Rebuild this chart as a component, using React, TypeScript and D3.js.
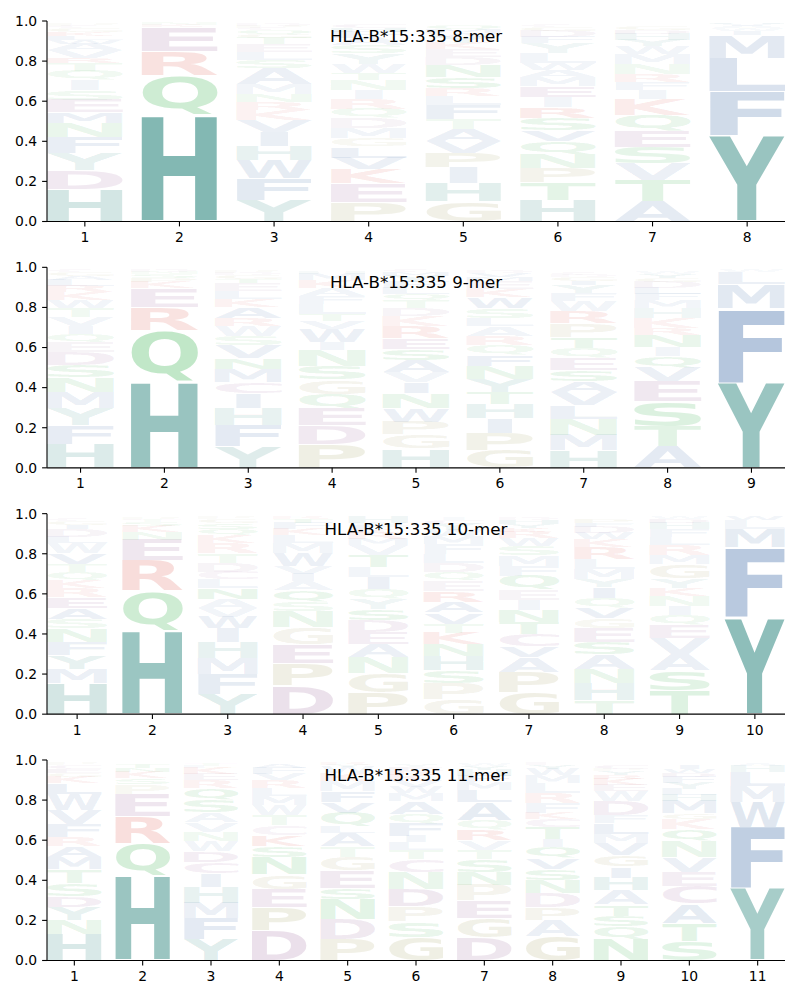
import { useMemo } from "react";
import * as d3 from "d3";

// letter / probability stacks, bottom -> top, one list per position
const MER_8: [string, number][][] = [
  [["H", .16], ["D", .095], ["Y", .083], ["F", .08], ["N", .07], ["M", .055], ["E", .063], ["S", .05], ["I", .05], ["Q", .045], ["T", .04], ["R", .025], ["V", .04], ["A", .03], ["W", .02], ["L", .02], ["K", .02], ["G", .02], ["C", .01], ["P", .01]],
  [["H", .53], ["Q", .2], ["R", .12], ["E", .12], ["K", .01], ["N", .01]],
  [["Y", .108], ["F", .108], ["W", .09], ["H", .07], ["I", .07], ["V", .058], ["K", .05], ["R", .04], ["N", .04], ["M", .05], ["A", .08], ["S", .04], ["L", .04], ["E", .04], ["T", .03], ["G", .02], ["Q", .02], ["C", .01], ["P", .01], ["D", .01]],
  [["P", .096], ["E", .094], ["K", .07], ["V", .058], ["L", .055], ["G", .044], ["M", .05], ["D", .05], ["Q", .045], ["R", .05], ["I", .045], ["N", .05], ["T", .035], ["W", .045], ["Y", .05], ["S", .04], ["A", .04], ["F", .03], ["H", .02], ["C", .02]],
  [["G", .1], ["H", .09], ["I", .078], ["P", .075], ["V", .058], ["A", .058], ["T", .05], ["F", .07], ["L", .045], ["R", .04], ["S", .055], ["N", .06], ["D", .04], ["E", .04], ["K", .03], ["Y", .03], ["W", .02], ["M", .02], ["Q", .02]],
  [["H", .105], ["T", .09], ["P", .072], ["N", .07], ["Q", .063], ["V", .055], ["S", .06], ["R", .055], ["I", .05], ["E", .055], ["M", .045], ["A", .035], ["W", .035], ["L", .05], ["Y", .05], ["F", .03], ["D", .03], ["G", .02], ["C", .01]],
  [["A", .1], ["T", .105], ["V", .085], ["S", .08], ["E", .08], ["Q", .08], ["K", .08], ["I", .045], ["F", .04], ["R", .04], ["N", .05], ["M", .05], ["W", .04], ["Y", .03], ["H", .03], ["D", .02], ["G", .02]],
  [["Y", .43], ["F", .22], ["L", .165], ["M", .115], ["I", .02], ["W", .015], ["A", .01], ["V", .01], ["H", .005]],
];

const MER_9: [string, number][][] = [
  [["H", .117], ["F", .095], ["Y", .083], ["M", .08], ["N", .075], ["S", .06], ["D", .065], ["E", .05], ["Q", .04], ["I", .04], ["V", .045], ["T", .045], ["W", .04], ["K", .04], ["R", .03], ["L", .03], ["A", .02], ["G", .02], ["C", .01]],
  [["H", .43], ["Q", .258], ["R", .115], ["E", .095], ["K", .03], ["P", .02], ["S", .02], ["N", .01], ["D", .01]],
  [["Y", .105], ["F", .105], ["H", .085], ["I", .075], ["C", .058], ["M", .063], ["N", .056], ["V", .063], ["S", .045], ["W", .05], ["R", .04], ["A", .055], ["K", .04], ["L", .04], ["E", .04], ["T", .02], ["G", .02], ["D", .01], ["P", .01]],
  [["P", .117], ["D", .095], ["E", .083], ["Q", .072], ["G", .072], ["S", .07], ["N", .08], ["I", .04], ["W", .065], ["V", .04], ["T", .033], ["L", .05], ["F", .04], ["A", .04], ["K", .04], ["M", .03], ["H", .01]],
  [["H", .095], ["G", .07], ["P", .065], ["W", .065], ["N", .075], ["I", .055], ["V", .05], ["A", .06], ["S", .055], ["E", .055], ["R", .06], ["K", .05], ["D", .04], ["T", .04], ["Q", .03], ["L", .03], ["F", .03], ["Y", .03], ["M", .02], ["C", .01]],
  [["G", .088], ["P", .087], ["I", .072], ["H", .072], ["T", .06], ["Y", .065], ["N", .065], ["F", .055], ["Q", .047], ["R", .047], ["A", .047], ["L", .04], ["S", .05], ["W", .055], ["K", .04], ["E", .04], ["M", .02], ["V", .02], ["D", .01]],
  [["H", .088], ["M", .077], ["N", .08], ["L", .067], ["V", .067], ["A", .055], ["S", .055], ["E", .058], ["Q", .05], ["T", .055], ["P", .07], ["R", .06], ["W", .05], ["F", .04], ["Y", .04], ["I", .02], ["G", .02], ["D", .01], ["C", .01]],
  [["A", .105], ["T", .1], ["S", .125], ["E", .1], ["V", .07], ["Q", .055], ["I", .045], ["N", .06], ["R", .035], ["K", .05], ["H", .05], ["M", .04], ["F", .03], ["L", .03], ["D", .03], ["G", .02], ["Y", .02], ["W", .01]],
  [["Y", .425], ["F", .37], ["M", .12], ["L", .06], ["W", .01]],
];

const MER_10: [string, number][][] = [
  [["H", .155], ["M", .07], ["Y", .068], ["F", .066], ["N", .068], ["S", .046], ["A", .055], ["E", .055], ["R", .046], ["K", .04], ["Q", .04], ["T", .038], ["V", .055], ["W", .05], ["L", .03], ["D", .04], ["I", .02], ["G", .02], ["C", .01]],
  [["H", .415], ["Q", .2], ["R", .15], ["E", .105], ["N", .04], ["K", .03], ["S", .02], ["T", .01], ["P", .01]],
  [["Y", .1], ["F", .097], ["M", .083], ["H", .077], ["I", .07], ["W", .058], ["V", .045], ["A", .045], ["N", .053], ["L", .043], ["C", .038], ["D", .046], ["T", .046], ["R", .05], ["K", .04], ["Q", .03], ["S", .03], ["G", .02], ["P", .01]],
  [["D", .143], ["P", .11], ["E", .096], ["G", .086], ["N", .08], ["S", .046], ["Q", .055], ["A", .046], ["I", .038], ["V", .038], ["W", .066], ["M", .05], ["L", .04], ["K", .03], ["F", .03], ["T", .02], ["R", .01]],
  [["P", .11], ["G", .095], ["N", .08], ["A", .065], ["E", .06], ["D", .06], ["S", .055], ["Y", .05], ["Q", .05], ["I", .06], ["L", .05], ["T", .06], ["V", .05], ["M", .03], ["R", .03], ["K", .02], ["F", .02], ["W", .01], ["H", .03]],
  [["G", .075], ["P", .08], ["S", .065], ["H", .07], ["N", .058], ["K", .058], ["T", .045], ["V", .055], ["A", .055], ["R", .055], ["E", .05], ["Q", .04], ["D", .046], ["L", .046], ["F", .05], ["M", .04], ["W", .03], ["Y", .03], ["C", .02], ["I", .01]],
  [["G", .11], ["P", .1], ["A", .075], ["V", .055], ["C", .06], ["T", .06], ["N", .06], ["I", .05], ["E", .05], ["Q", .07], ["F", .05], ["M", .05], ["S", .05], ["W", .04], ["R", .03], ["K", .02], ["Y", .02], ["H", .02], ["D", .01]],
  [["T", .07], ["H", .083], ["N", .072], ["A", .072], ["S", .063], ["E", .07], ["G", .05], ["V", .053], ["Q", .046], ["I", .055], ["Y", .04], ["M", .05], ["L", .05], ["R", .058], ["K", .04], ["W", .03], ["D", .03], ["F", .02], ["P", .02]],
  [["T", .12], ["S", .1], ["A", .08], ["V", .08], ["E", .063], ["Q", .052], ["I", .046], ["N", .05], ["K", .04], ["Y", .046], ["G", .07], ["M", .046], ["R", .05], ["L", .04], ["F", .04], ["H", .03], ["D", .02], ["W", .01]],
  [["Y", .48], ["F", .35], ["M", .095], ["L", .043], ["W", .02]],
];

const MER_11: [string, number][][] = [
  [["H", .13], ["N", .072], ["Y", .065], ["D", .055], ["S", .065], ["T", .07], ["M", .058], ["A", .055], ["R", .047], ["F", .063], ["V", .07], ["W", .078], ["L", .055], ["K", .03], ["G", .02], ["E", .02], ["C", .02], ["P", .01]],
  [["H", .42], ["Q", .165], ["R", .135], ["E", .11], ["P", .05], ["S", .03], ["K", .03], ["N", .02], ["T", .02]],
  [["Y", .105], ["F", .105], ["M", .078], ["H", .078], ["I", .068], ["C", .055], ["D", .055], ["W", .052], ["N", .045], ["V", .048], ["A", .048], ["S", .063], ["Q", .06], ["R", .04], ["E", .03], ["K", .03], ["L", .01], ["T", .01]],
  [["D", .147], ["P", .117], ["E", .092], ["G", .072], ["N", .088], ["S", .055], ["K", .055], ["C", .047], ["T", .05], ["W", .05], ["M", .047], ["L", .04], ["R", .04], ["V", .03], ["F", .03], ["A", .02]],
  [["P", .105], ["D", .1], ["N", .1], ["S", .055], ["E", .088], ["G", .067], ["T", .052], ["A", .07], ["L", .03], ["Q", .07], ["V", .055], ["F", .055], ["M", .05], ["K", .04], ["W", .03], ["Y", .01], ["R", .01]],
  [["G", .117], ["S", .078], ["P", .075], ["D", .087], ["N", .083], ["C", .063], ["T", .047], ["L", .04], ["I", .03], ["F", .063], ["Q", .047], ["A", .063], ["M", .04], ["W", .03], ["V", .03], ["K", .03], ["R", .02], ["E", .02], ["Y", .01]],
  [["D", .113], ["G", .097], ["E", .088], ["P", .08], ["N", .063], ["S", .063], ["T", .047], ["V", .047], ["R", .055], ["Q", .047], ["A", .088], ["L", .06], ["M", .04], ["F", .03], ["H", .03], ["Y", .02], ["W", .01]],
  [["G", .122], ["A", .08], ["P", .063], ["D", .072], ["N", .063], ["S", .055], ["V", .055], ["Q", .055], ["I", .04], ["T", .06], ["C", .04], ["K", .03], ["F", .05], ["R", .05], ["L", .05], ["M", .04], ["W", .03], ["Y", .02], ["E", .01]],
  [["N", .105], ["Q", .063], ["S", .055], ["T", .055], ["A", .072], ["H", .063], ["I", .055], ["G", .055], ["V", .06], ["M", .047], ["L", .055], ["F", .04], ["D", .07], ["W", .05], ["E", .03], ["K", .03], ["R", .02], ["Y", .02], ["P", .01], ["C", .02]],
  [["S", .097], ["T", .088], ["A", .097], ["C", .088], ["E", .072], ["V", .072], ["N", .08], ["Q", .06], ["K", .05], ["G", .03], ["M", .063], ["H", .03], ["L", .03], ["Y", .03], ["F", .03], ["D", .02], ["W", .02], ["I", .02]],
  [["Y", .36], ["F", .305], ["W", .125], ["M", .08], ["L", .07], ["H", .03], ["A", .01]],
];

const TITLES = ["HLA-B*15:335 8-mer", "HLA-B*15:335 9-mer", "HLA-B*15:335 10-mer", "HLA-B*15:335 11-mer"];
const Y_TICKS = [0, 0.2, 0.4, 0.6, 0.8, 1.0];

const COLOR: Record<string, string> = {
  H: "#14786f", Y: "#14786f",
  A: "#3c69a5", V: "#3c69a5", I: "#3c69a5", L: "#3c69a5", M: "#3c69a5", F: "#3c69a5", W: "#3c69a5",
  N: "#22a83a", Q: "#22a83a", S: "#22a83a", T: "#22a83a",
  K: "#d83c32", R: "#d83c32",
  D: "#8c508c", E: "#8c508c", C: "#9a5a9a",
  P: "#96914a", G: "#96914a",
};

const FONT = "DejaVu Sans";
const LEFT = 47;
const RIGHT = 785;
const TOP0 = 21;
const PANEL_H = 200.5;
const PANEL_STEP = 246.33;
const VPAD = 0.03;

function useGlyphs() {
  return useMemo(() => {
    const ctx = document.createElement("canvas").getContext("2d")!;
    ctx.font = `bold 100px "${FONT}"`;
    const out: Record<string, { l: number; a: number; w: number; h: number }> = {};
    for (const c of "ACDEFGHIKLMNPQRSTVWY") {
      const m = ctx.measureText(c);
      out[c] = {
        l: m.actualBoundingBoxLeft,
        a: m.actualBoundingBoxAscent,
        w: m.actualBoundingBoxLeft + m.actualBoundingBoxRight,
        h: m.actualBoundingBoxAscent + m.actualBoundingBoxDescent,
      };
    }
    return out;
  }, []);
}

function Logo({ data, title, top, glyphs }: any) {
  const n = data.length;
  const x = d3.scaleLinear().domain([0.6, n + 0.4]).range([LEFT, RIGHT]);
  const y = d3.scaleLinear().domain([0, 1]).range([top + PANEL_H, top]);
  const boxW = x(1.4) - x(0.6);
  const bottom = top + PANEL_H;

  const letters: any[] = [];
  data.forEach((col: [string, number][], i: number) => {
    let cum = 0;
    col.forEach(([ch, v], j) => {
      const pad = (v * VPAD) / 2;
      const yTop = y(cum + v - pad);
      const yBot = y(cum + pad);
      cum += v;
      const g = glyphs[ch];
      const sx = Math.min(boxW / g.w, boxW / glyphs.E.w);
      const sy = (yBot - yTop) / g.h;
      const bx = x(i + 1) - (sx * g.w) / 2;
      letters.push(
        <text
          key={`${i}-${j}`}
          transform={`translate(${bx},${yTop}) scale(${sx},${sy}) translate(${g.l},${g.a})`}
          fontFamily={FONT}
          fontWeight="bold"
          fontSize={100}
          fill={COLOR[ch]}
          fillOpacity={Math.min(1, 0.04 + 0.92 * v)}
        >
          {ch}
        </text>
      );
    });
  });

  return (
    <g>
      {letters}
      <line x1={LEFT} x2={LEFT} y1={top} y2={bottom} stroke="black" strokeWidth={1.1} />
      <line x1={LEFT} x2={RIGHT} y1={bottom} y2={bottom} stroke="black" strokeWidth={1.1} />
      {Y_TICKS.map((t) => (
        <g key={t}>
          <line x1={LEFT - 4.9} x2={LEFT} y1={y(t)} y2={y(t)} stroke="black" strokeWidth={1.1} />
          <text x={LEFT - 9.8} y={y(t)} dy="0.35em" textAnchor="end" fontFamily={FONT} fontSize={13.9}>
            {t.toFixed(1)}
          </text>
        </g>
      ))}
      {d3.range(1, n + 1).map((p) => (
        <g key={p}>
          <line x1={x(p)} x2={x(p)} y1={bottom} y2={bottom + 4.9} stroke="black" strokeWidth={1.1} />
          <text x={x(p)} y={bottom + 20.5} textAnchor="middle" fontFamily={FONT} fontSize={13.9}>
            {p}
          </text>
        </g>
      ))}
      <text x={(LEFT + RIGHT) / 2} y={top + 21} textAnchor="middle" fontFamily={FONT} fontSize={16.67}>
        {title}
      </text>
    </g>
  );
}

export default function App() {
  const glyphs = useGlyphs();
  const panels = [MER_8, MER_9, MER_10, MER_11];
  return (
    <svg width={800} height={1000} style={{ position: "absolute", left: 0, top: 0, background: "white" }}>
      {panels.map((d, k) => (
        <Logo key={k} data={d} title={TITLES[k]} top={TOP0 + k * PANEL_STEP} glyphs={glyphs} />
      ))}
    </svg>
  );
}
